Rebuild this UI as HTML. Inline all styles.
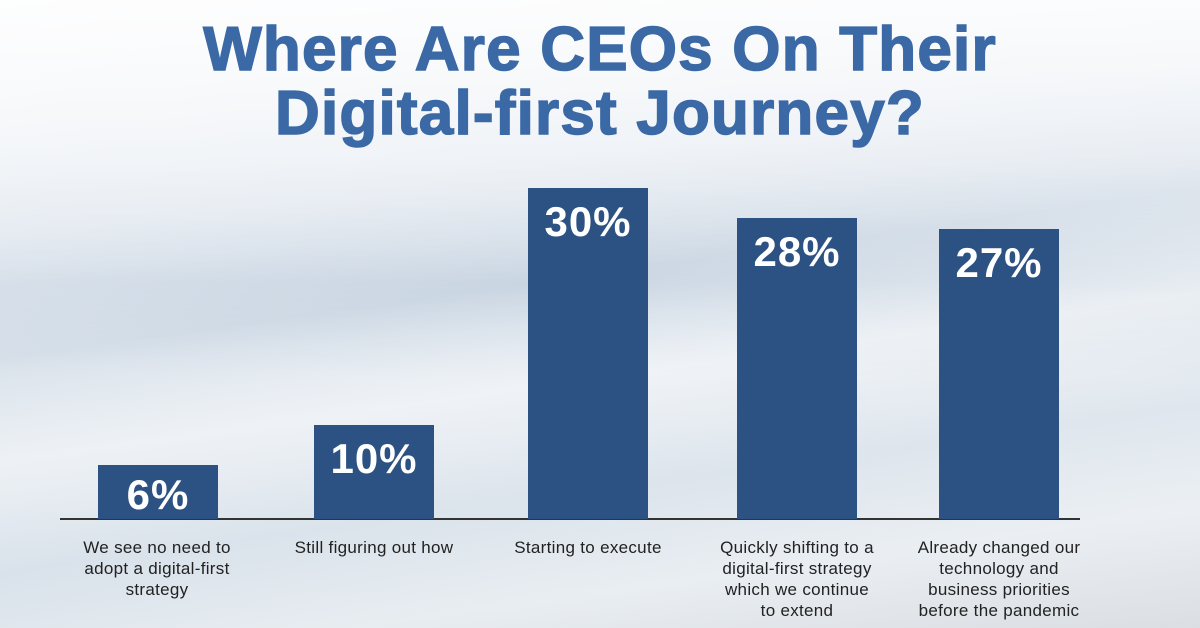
<!DOCTYPE html>
<html><head><style>
body{margin:0;width:1200px;height:628px;overflow:hidden;font-family:"Liberation Sans",sans-serif;}
#c{position:relative;width:1200px;height:628px;
background:
linear-gradient(180deg,rgba(255,255,255,0.85) 0%,rgba(255,255,255,0.5) 25%,rgba(255,255,255,0) 45%,rgba(255,255,255,0.3) 60%,rgba(230,236,242,0.2) 100%),
linear-gradient(172deg,#f4f6f9 0%,#dfe6ee 30%,#c9d5e2 45%,#e9eef3 58%,#d3dde7 72%,#e8edf1 85%,#d8dbdf 100%);}
.bar{position:absolute;background:#2c5183;color:#fff;font-weight:bold;font-size:42px;text-align:center;width:120px;line-height:1;padding-top:13px;box-sizing:border-box;letter-spacing:1px;}
.lab{position:absolute;top:537px;width:220px;text-align:center;font-size:17px;line-height:21px;color:#222;letter-spacing:0.3px;}
h1{position:absolute;top:18px;left:0;width:1200px;margin:0;text-align:center;color:#3b69a6;font-size:62px;line-height:64px;font-weight:900;letter-spacing:1.2px;-webkit-text-stroke:1.5px #3b69a6;}
</style></head><body><div id="c">
<h1>Where Are CEOs On Their<br>Digital-first Journey?</h1>
<div style="position:absolute;left:60px;top:518px;width:1020px;height:2px;background:#333"></div>
<div class="bar" style="left:98px;top:465px;height:54px;padding-top:9px">6%</div>
<div class="bar" style="left:314px;top:425px;height:94px">10%</div>
<div class="bar" style="left:528px;top:188px;height:331px">30%</div>
<div class="bar" style="left:737px;top:218px;height:301px">28%</div>
<div class="bar" style="left:939px;top:229px;height:290px">27%</div>
<div class="lab" style="left:47px">We see no need to<br>adopt a digital-first<br>strategy</div>
<div class="lab" style="left:264px">Still figuring out how</div>
<div class="lab" style="left:478px">Starting to execute</div>
<div class="lab" style="left:687px">Quickly shifting to a<br>digital-first strategy<br>which we continue<br>to extend</div>
<div class="lab" style="left:889px">Already changed our<br>technology and<br>business priorities<br>before the pandemic</div>
</div></body></html>
